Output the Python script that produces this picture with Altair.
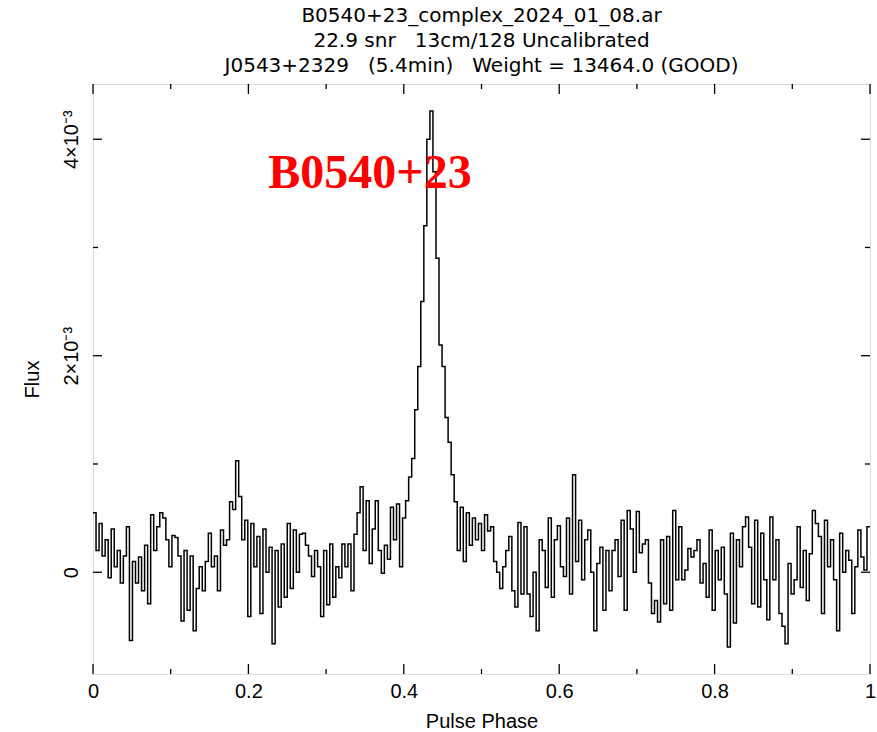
import altair as alt
import pandas as pd

# Flux profile values, units of 1e-4 (256 phase bins)
flux_e4 = [
    5.5, 2, 4.5, 1.5, 3, -0.5, 4, 0.5, 2, -1, 1.5, 4.2, -6.3, 1, -1, 1.4, -1.7, 2.5, -2.9, 5.3,
    2, 4.2, 5.5, 5, 3, 0.5, 3.4, 3.2, 1.5, -4.5, 2, -3.5, 1.5, -5.4, -1.5, 0.5, -1.7, 1, 3.6, 0.5,
    1.5, -1.7, 3.9, 2.5,
    3, 6.5, 5.8, 10.3, 7, 3, 4.8, -4.1, 4.5, 0.5, 3.3, -3.8, 4, 0, 2.3, -6.6, 2, -3.2, 2.6, -2.3,
    4.5, -1.5, 3.9, 0, 3.5, 3.6, 2.5, 1.5, -0.4, 2, 0.5, -4.1, 2, -3, 2.6, -2.3, 0.5, -0.5, 2.6, 0.5,
    2.6, -1.7, 3.5, 5.5,
    7.9, 2, 6.6, 0.8, 4, 6.6, 2, -0.1, 2.5, 1.2, 6, 3, 6.3, 0.5, 5, 6.6, 8.8, 10.5, 15, 19,
    25, 32, 40, 42.6, 37, 29, 21, 19, 14.3, 12, 9, 6.5, 2, 6, 1, 5.5, 2.5, 5, 3, 4.5,
    2, 5.3, 3.8, 4.2, 1, 0, -1.5, 0.5, 2, 3.3, -1.7, -3.2, 4.6, -2, 4.2, -2, -4.1, 0, -5.4, 3,
    2, -1.4, 5, -2.3, 3, 4.3, 0.5, -0.4, 5, -2, 9, 1, 4.8, -0.7, 3, 3.9, 0, -5.4, 0.8, 2.3,
    -3.5, 2, -1.7, 2,
    3, -0.4, 4.8, -3.5, 5.7, 4, 0, 5.6, 1.8, 2.6, 3, -1, -3.8, -2.6, -4.6, 3, -2.9, 3.3, -3.5, 5.7,
    -0.7, 4.2, -0.7, 0.2, 2.2, 1.4, 2, 3, -1, 0.8, -2.3, 3.9, -3.5, 2, -0.7, 2.3, -2, -6.9, 3.6, -4.7,
    3, 0.5, 4.2,
    5.1, 2.3, -2.9, 4.8, -3.2, 3.6, -0.7, -4.4, 5.1, -0.7, 3, -3.8, -5, -6.6, 0.8, -2, -0.7, 4.2, -1.4, 2,
    -2.6, 1.7, 5.7, 4.5, 3.3, -3.8, 4.8, 0.5, 3, -0.7, -5.4, 3.6, 0, 2, 1.1, -3.8, 0.5, 3.9, 1.4, 0.2,
    4.2,
]

x_major = [0, 0.2, 0.4, 0.6, 0.8, 1.0]
x_minor = [0.1, 0.3, 0.5, 0.7, 0.9]
y_major = [0, 0.002, 0.004]
y_minor = [0.001, 0.003]
y_domain = [-0.00094, 0.00451]

title_lines = [
    "B0540+23_complex_2024_01_08.ar",
    "22.9 snr\u00a0\u00a0 13cm/128 Uncalibrated",
    "J0543+2329\u00a0\u00a0 (5.4min)\u00a0\u00a0 Weight = 13464.0 (GOOD)",
]
label_text = ["B0540+23"]
label_x = [0.3565]
label_y = [0.003547]

n = len(flux_e4)
phase = [i / n for i in range(n)] + [1.0]
flux = [v * 1e-4 for v in flux_e4] + [flux_e4[-1] * 1e-4]
prof = pd.DataFrame({"phase": phase, "flux": flux})

W, H = 777, 590
FONT = "DejaVu Sans"

xs = alt.Scale(domain=[0, 1], nice=False, zero=False)
ys = alt.Scale(domain=y_domain, nice=False, zero=False)

line = alt.Chart(prof).mark_line(
    interpolate="step-after", color="black", strokeWidth=1.5, clip=True
).encode(
    x=alt.X("phase:Q", scale=xs, axis=alt.Axis(
        values=x_major, title="Pulse Phase", ticks=False, domain=False, grid=False,
        labelExpr="datum.value == 0 ? '0' : datum.value == 1 ? '1' : format(datum.value, '.1f')",
        labelPadding=7, labelFontSize=20, titleFontSize=20, titleFontWeight="normal",
        titleY=47, titleBaseline="middle", labelFlush=False,
    )),
    y=alt.Y("flux:Q", scale=ys, axis=alt.Axis(
        values=y_major, title="Flux", ticks=False, domain=False, grid=False,
        labelExpr="datum.value == 0 ? '0' : format(datum.value * 1000, 'd') + '×10⁻³'",
        labelAngle=270, labelAlign="center", labelBaseline="bottom", labelPadding=12,
        labelFontSize=20, titleFontSize=20, titleFontWeight="normal",
        titleAngle=270, titleX=-51, titleY=295, titleAlign="center", titleBaseline="bottom",
        labelFlush=False,
    )),
)

def xticks(vals, length):
    d = pd.DataFrame({"v": vals})
    bot = alt.Chart(d).mark_rule(color="black", strokeWidth=1.3).encode(
        x=alt.X("v:Q", scale=xs), y=alt.value(H), y2=alt.value(H - length))
    top = alt.Chart(d).mark_rule(color="black", strokeWidth=1.3).encode(
        x=alt.X("v:Q", scale=xs), y=alt.value(0), y2=alt.value(length))
    return bot + top

def yticks(vals, length):
    d = pd.DataFrame({"v": vals})
    left = alt.Chart(d).mark_rule(color="black", strokeWidth=1.3).encode(
        y=alt.Y("v:Q", scale=ys), x=alt.value(0), x2=alt.value(length))
    right = alt.Chart(d).mark_rule(color="black", strokeWidth=1.3).encode(
        y=alt.Y("v:Q", scale=ys), x=alt.value(W), x2=alt.value(W - length))
    return left + right

ann = alt.Chart(pd.DataFrame({"t": label_text, "x": label_x, "y": label_y})).mark_text(
    color="#ff0000", font="Liberation Serif", fontWeight="bold", fontSize=48,
    align="center", baseline="alphabetic"
).encode(x=alt.X("x:Q", scale=xs), y=alt.Y("y:Q", scale=ys), text="t:N")

chart = alt.layer(
    line, xticks(x_major, 10), xticks(x_minor, 5), yticks(y_major, 9), yticks(y_minor, 5), ann
).properties(
    width=W, height=H,
    title=alt.TitleParams(text=title_lines, fontSize=20, font=FONT, fontWeight="normal",
                          lineHeight=25, anchor="middle", offset=7, color="black"),
    autosize=alt.AutoSizeParams(type="none"),
    padding={"left": 93, "top": 84, "right": 7, "bottom": 58},
).configure_view(
    stroke="black", strokeWidth=1.5
).configure_axis(
    labelFont=FONT, titleFont=FONT, labelColor="black", titleColor="black"
).configure(background="white")

chart.save("out.html", embed_options={"renderer": "svg", "actions": False})
